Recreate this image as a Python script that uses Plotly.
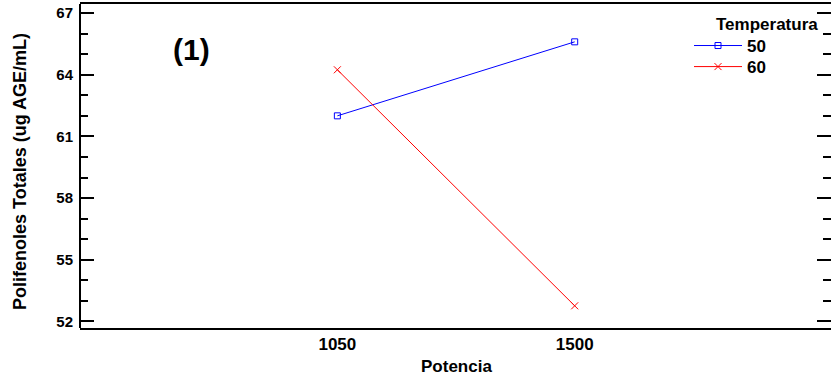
import plotly.graph_objects as go

potencia = [1050, 1500]
temp_50 = [62.0, 65.6]
temp_60 = [64.24, 52.76]
series_names = ["50", "60"]
y_ticks = [52, 55, 58, 61, 64, 67]

FONT = "Liberation Sans, Arial, sans-serif"

fig = go.Figure()
fig.add_trace(go.Scatter(
    x=potencia, y=temp_50, name=series_names[0], mode="lines+markers", legend="legend",
    line=dict(color="#0000ff", width=1),
    marker=dict(symbol="square-open", size=6, color="#0000ff", line=dict(width=1, color="#0000ff")),
))
fig.add_trace(go.Scatter(
    x=potencia, y=temp_60, name=series_names[1], mode="lines+markers", legend="legend2",
    line=dict(color="#ff0000", width=1),
    marker=dict(symbol="x-thin", size=7, color="#ff0000", line=dict(width=1, color="#ff0000")),
))

leg_common = dict(xanchor="left", yanchor="top", bgcolor="rgba(0,0,0,0)",
                  font=dict(size=17, family=FONT, weight="bold"), itemwidth=48)
fig.update_layout(
    width=831, height=381,
    margin=dict(l=80, r=0, t=4, b=53),
    paper_bgcolor="white", plot_bgcolor="white",
    font=dict(family=FONT, color="black", weight="bold"),
    showlegend=True,
    legend=dict(x=(689 - 80) / 751, y=0.926, **leg_common),
    legend2=dict(x=(689 - 80) / 751, y=0.861, **leg_common),
    shapes=[dict(type="line", xref="paper", yref="paper", x0=0, x1=0, y0=0, y1=1,
                 line=dict(color="black", width=2), layer="above")],
)
fig.update_xaxes(
    range=[562, 1986], tickvals=potencia, ticktext=[str(v) for v in potencia],
    ticks="", showgrid=False, zeroline=False, automargin=False,
    showline=True, linecolor="black", linewidth=2, mirror=True,
    tickfont=dict(size=17, family=FONT, weight="bold"),
)
fig.update_yaxes(
    range=[51.68, 67.44], tickvals=y_ticks, automargin=False,
    ticks="inside", ticklen=14, tickwidth=1.5, tickcolor="black",
    minor=dict(dtick=1, tick0=52, ticks="inside", ticklen=8, tickwidth=1.5, tickcolor="black"),
    showgrid=False, zeroline=False,
    showline=False, mirror="ticks",
    tickfont=dict(size=15, family=FONT, weight="bold"), ticklabelstandoff=6,
)

fig.add_annotation(text="(1)", xref="paper", yref="paper", x=(191 - 80) / 751, y=1 - (50 - 4) / 324,
                   showarrow=False, font=dict(size=30, family=FONT, weight="bold"),
                   xanchor="center", yanchor="middle")
fig.add_annotation(text="Temperatura", xref="paper", yref="paper", x=(766.5 - 80) / 751, y=1 - (25 - 4) / 324,
                   showarrow=False, font=dict(size=17, family=FONT, weight="bold"),
                   xanchor="center", yanchor="middle")
fig.add_annotation(text="Polifenoles Totales (ug AGE/mL)", xref="paper", yref="paper",
                   x=(20 - 80) / 751, y=1 - (172 - 4) / 324, textangle=-90,
                   showarrow=False, font=dict(size=18, family=FONT, weight="bold"),
                   xanchor="center", yanchor="middle")
fig.add_annotation(text="Potencia", xref="paper", yref="paper",
                   x=(456.5 - 80) / 751, y=1 - (366 - 4) / 324,
                   showarrow=False, font=dict(size=17, family=FONT, weight="bold"),
                   xanchor="center", yanchor="middle")

fig.write_html("out.html", config={"displayModeBar": False},
               post_script="document.body.style.margin='0';document.body.style.overflow='hidden';")
